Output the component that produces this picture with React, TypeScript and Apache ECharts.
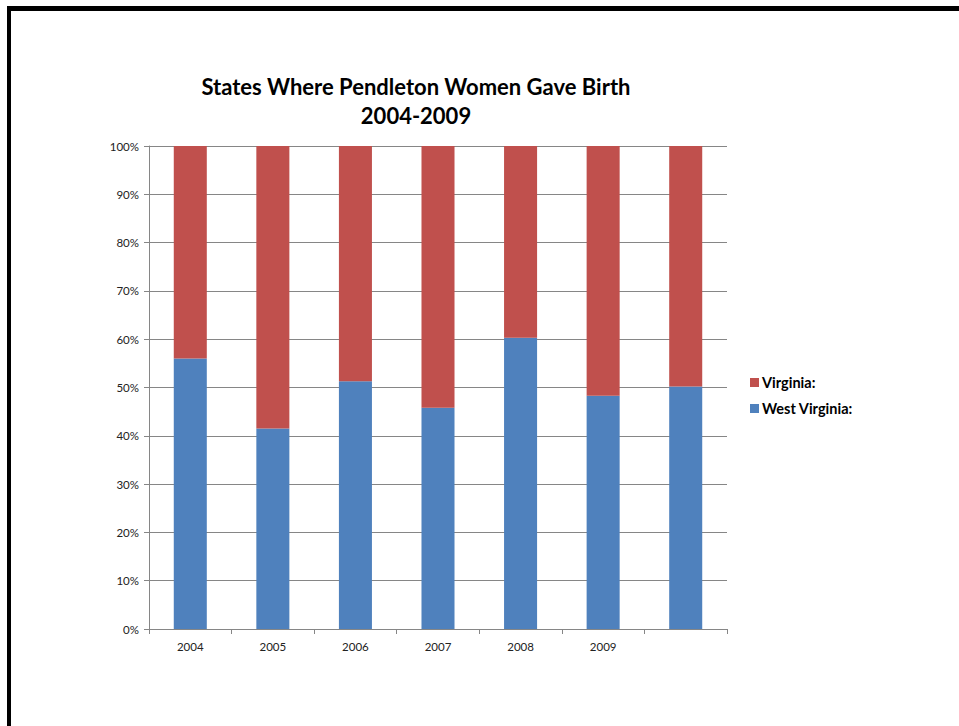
import React, { useEffect, useRef } from "react";
import * as echarts from "echarts";

// Share of births by state, in percent of each year's total
const years = ["2004", "2005", "2006", "2007", "2008", "2009", ""];
const westVirginia = [56.0, 41.5, 51.3, 45.8, 60.3, 48.3, 50.2];
const virginia = westVirginia.map((v) => +(100 - v).toFixed(1));
const seriesNames = ["West Virginia:", "Virginia:"];
const legendOrder = ["Virginia:", "West Virginia:"];

const FONT = "Lato, 'Liberation Sans', sans-serif";

export default function App() {
  const ref = useRef<HTMLDivElement>(null);

  useEffect(() => {
    if (!ref.current) return;
    const chart = echarts.init(ref.current, undefined, { renderer: "svg" });
    chart.setOption({
      animation: false,
      backgroundColor: "#ffffff",
      title: {
        text: "States Where Pendleton Women Gave Birth\n2004-2009",
        left: 411,
        top: 67,
        textAlign: "center",
        textStyle: {
          fontFamily: FONT,
          fontWeight: "bold",
          fontSize: 22,
          lineHeight: 29,
          color: "#000",
        },
      },
      legend: {
        orient: "vertical",
        left: 745,
        top: 370,
        itemWidth: 9,
        itemHeight: 9,
        itemGap: 11,
        icon: "rect",
        data: legendOrder,
        textStyle: {
          fontFamily: FONT,
          fontWeight: "bold",
          fontSize: 14.5,
          lineHeight: 15,
          color: "#000",
          padding: [0, 0, 0, -2],
        },
      },
      grid: { left: 149, right: 232, top: 146, bottom: 97, containLabel: false },
      xAxis: {
        type: "category",
        data: years,
        boundaryGap: true,
        axisLine: { show: true, lineStyle: { color: "#868686", width: 1 } },
        axisTick: { show: true, length: 5, alignWithLabel: false, lineStyle: { color: "#868686" } },
        axisLabel: { fontFamily: FONT, fontSize: 11.5, color: "#222", margin: 11 },
      },
      yAxis: {
        type: "value",
        min: 0,
        max: 100,
        interval: 10,
        axisLine: { show: true, lineStyle: { color: "#868686", width: 1 } },
        axisTick: { show: true, length: 5, lineStyle: { color: "#868686" } },
        axisLabel: { formatter: "{value}%", fontFamily: FONT, fontSize: 11.5, color: "#222", margin: 10 },
        splitLine: { show: true, lineStyle: { color: "#868686", width: 1 } },
      },
      series: [
        {
          name: seriesNames[0],
          type: "bar",
          stack: "share",
          data: westVirginia,
          barWidth: "40%",
          itemStyle: { color: "#4F81BD" },
        },
        {
          name: seriesNames[1],
          type: "bar",
          stack: "share",
          data: virginia,
          barWidth: "40%",
          itemStyle: { color: "#C0504D" },
        },
      ],
    });
    return () => chart.dispose();
  }, []);

  return (
    <div style={{ position: "fixed", left: 0, top: 0, width: 959, height: 726, background: "#fff" }}>
      <div ref={ref} style={{ position: "absolute", left: 0, top: 0, width: 959, height: 726 }} />
      <div style={{ position: "absolute", left: 7, top: 6, width: 952, height: 5, background: "#000" }} />
      <div style={{ position: "absolute", left: 7, top: 6, width: 4, height: 720, background: "#000" }} />
    </div>
  );
}
